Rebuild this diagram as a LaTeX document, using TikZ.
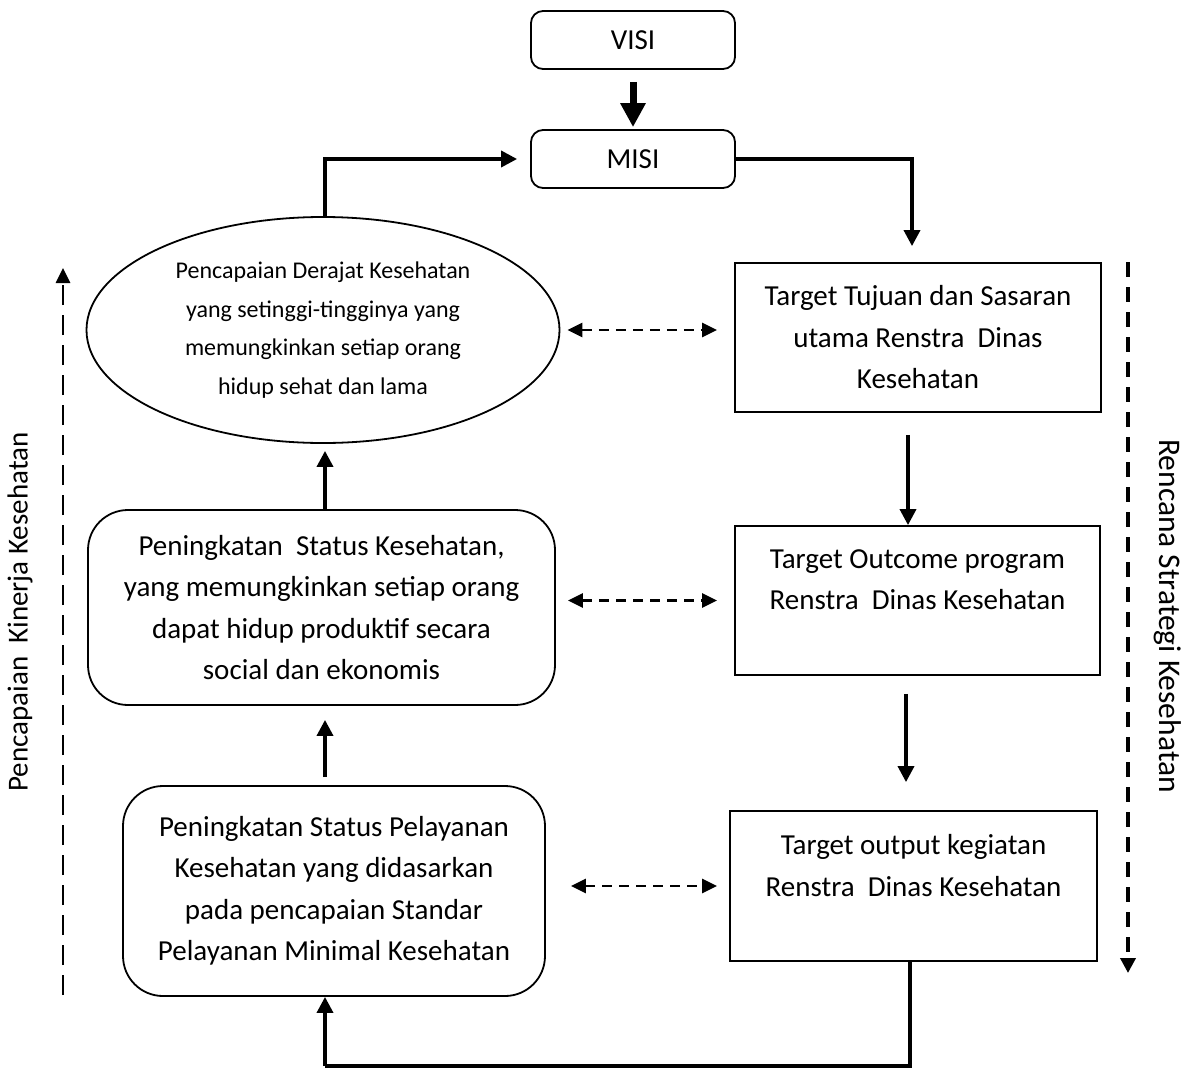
\documentclass[tikz,border=0pt]{standalone}
\usepackage{fontspec}
\setmainfont{Carlito}
\usetikzlibrary{shapes.geometric,arrows.meta}

\tikzset{
  kotak/.style={draw, line width=1.8pt, inner sep=0pt, align=center,
    font=\fontsize{29}{41.5}\selectfont},
  bulat/.style={kotak, rounded corners=#1},
  flow/.style={line width=3.5pt, -{Triangle[length=16pt,width=16pt]}},
  dflow/.style={line width=2.6pt, dash pattern=on 10pt off 7pt,
    {Triangle[length=15pt,width=14pt]}-{Triangle[length=15pt,width=14pt]}},
  sisi/.style={font=\fontsize{#1}{32}\selectfont}
}

\begin{document}
\begin{tikzpicture}[x=1pt,y=-1pt]
  \useasboundingbox (0,0) rectangle (1188,1068);

  % puncak
  \node[bulat=12pt, minimum width=204pt, minimum height=58pt] (visi) at (633,40) {VISI};
  \node[bulat=12pt, minimum width=204pt, minimum height=58pt] (misi) at (633,159) {MISI};

  % kolom kiri
  \node[draw, ellipse, line width=1.8pt, inner sep=0pt, minimum width=473pt, minimum height=226pt,
    align=center, font=\fontsize{24}{38.5}\selectfont] (derajat) at (323,330)
    {Pencapaian Derajat Kesehatan\\yang setinggi-tingginya yang\\memungkinkan setiap orang\\hidup sehat dan lama};
  \node[bulat=40pt, minimum width=467pt, minimum height=195pt] (status) at (321.5,607.5)
    {Peningkatan\ \ Status Kesehatan,\\yang memungkinkan setiap orang\\dapat hidup produktif secara\\social dan ekonomis};
  \node[bulat=40pt, minimum width=422pt, minimum height=210pt] (pelayanan) at (334,891)
    {Peningkatan Status Pelayanan\\Kesehatan yang didasarkan\\pada pencapaian Standar\\Pelayanan Minimal Kesehatan};

  % kolom kanan
  \node[kotak, minimum width=366pt, minimum height=149pt] (tujuan) at (918,337.5)
    {Target Tujuan dan Sasaran\\utama Renstra\ \ Dinas\\Kesehatan};
  \node[kotak, minimum width=365pt, minimum height=149pt] (outcome) at (917.5,600.5)
    {Target Outcome program\\Renstra\ \ Dinas Kesehatan\\\mbox{}};
  \node[kotak, minimum width=367pt, minimum height=150pt] (output) at (913.5,886)
    {Target output kegiatan\\Renstra\ \ Dinas Kesehatan\\\mbox{}};

  % label samping
  \node[sisi=29, rotate=90] (kinerja) at (20,612) {Pencapaian\ \ Kinerja Kesehatan};
  \node[sisi=31.5, rotate=-90] (renstra) at (1168,616) {Rencana Strategi Kesehatan};
  \coordinate (kiribawah) at (63,995);
  \coordinate (kiriatas) at (63,268);
  \coordinate (kananatas) at (1128,262);
  \coordinate (kananbawah) at (1128,973);
  \coordinate (bawah) at (325,1066);

  % panah
  \draw[line width=7pt, -{Triangle[length=24pt,width=24pt]}, shorten <=12pt, shorten >=2pt]
    (visi.south) -- (misi.north);
  \draw[flow, shorten >=13pt] ([xshift=2pt]derajat.north) |- (misi.west);
  \draw[flow, shorten >=16pt] (misi.east) -| ([xshift=-6pt]tujuan.north);
  \draw[flow, shorten <=22pt] ([xshift=-10pt]tujuan.south) -- ([xshift=-10pt]tujuan.south |- outcome.north);
  \draw[flow, shorten <=18pt, shorten >=28pt] ([xshift=-11.5pt]outcome.south) -- ([xshift=-11.5pt]outcome.south |- output.north);
  \draw[line width=3.5pt] ([xshift=-3.5pt]output.south) |- (bawah);
  \draw[flow] (bawah) -- (pelayanan.south -| bawah);
  \draw[flow, shorten <=8pt, shorten >=14pt] (pelayanan.north -| bawah) -- (status.south -| bawah);
  \draw[flow, shorten >=7pt] (status.north -| bawah) -- (derajat.south -| bawah);

  % panah putus-putus
  \draw[dflow, shorten <=7pt, shorten >=17pt] (derajat.east) -- (derajat.east -| tujuan.west);
  \draw[dflow, shorten <=12pt, shorten >=17pt] (status.east |- outcome) -- (outcome.west);
  \draw[dflow, shorten <=25pt, shorten >=12pt] (pelayanan.east |- output) -- (output.west);
  \draw[line width=2.6pt, dash pattern=on 20pt off 10pt, -{Triangle[length=15pt,width=14pt]}]
    (kiribawah) -- (kiriatas);
  \draw[line width=3.6pt, dash pattern=on 15pt off 10pt, -{Triangle[length=15pt,width=15pt]}]
    (kananatas) -- (kananbawah);
\end{tikzpicture}
\end{document}
